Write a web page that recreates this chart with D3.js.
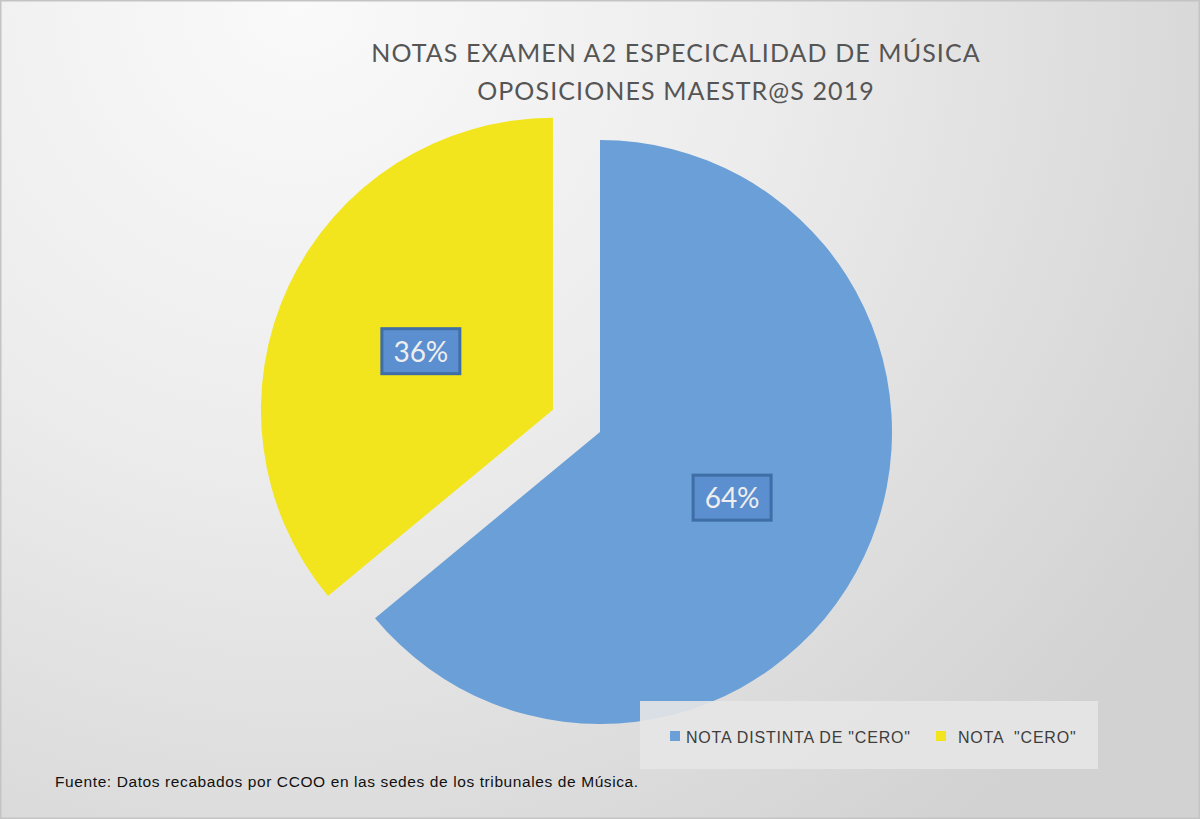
<!DOCTYPE html>
<html><head><meta charset="utf-8">
<script src="https://cdn.jsdelivr.net/npm/d3@7"></script>
<style>html,body{margin:0;padding:0;background:#fff;}svg{display:block;}</style>
</head><body>
<svg id="chart" width="1200" height="819"></svg>
<script>
const categories = ['NOTA DISTINTA DE "CERO"', 'NOTA  "CERO"'];
const values = [64, 36];
const colors = ["#6a9fd7", "#f2e51e"];
const titleLines = ["NOTAS EXAMEN A2 ESPECICALIDAD DE MÚSICA", "OPOSICIONES MAESTR@S 2019"];
const footnote = "Fuente: Datos recabados por CCOO en las sedes de los tribunales de Música.";

const W = 1200, H = 819;
const svg = d3.select("#chart");
const defs = svg.append("defs");
const grad = defs.append("radialGradient").attr("id", "bg")
  .attr("gradientUnits", "userSpaceOnUse")
  .attr("cx", 300).attr("cy", 0).attr("r", 1050);
grad.append("stop").attr("offset", "0%").attr("stop-color", "#fafafa");
grad.append("stop").attr("offset", "45%").attr("stop-color", "#ececec");
grad.append("stop").attr("offset", "100%").attr("stop-color", "#d2d2d2");

svg.append("rect").attr("x", 0.5).attr("y", 0.5).attr("width", W - 1).attr("height", H - 1)
  .attr("fill", "url(#bg)").attr("stroke", "#c4c4c4").attr("stroke-width", 2);

// Title
svg.append("g").selectAll("text").data(titleLines).join("text")
  .attr("x", 676).attr("y", (d, i) => 62 + i * 38)
  .attr("text-anchor", "middle")
  .attr("font-family", "Lato, 'Open Sans', sans-serif")
  .attr("font-size", 25).attr("letter-spacing", 1.1)
  .attr("fill", "#555555")
  .text(d => d);

// Pie
const cx = 600, cy = 432, R = 292, explode = 52;
const pie = d3.pie().sort(null).value(d => d)(values);
const arc = d3.arc().innerRadius(0).outerRadius(R);
const total = d3.sum(values);
const g = svg.append("g").attr("transform", `translate(${cx},${cy})`);
const offset = (d, i) => {
  if (i !== 1) return [0, 0];
  const a = (d.startAngle + d.endAngle) / 2;
  return [Math.sin(a) * explode, -Math.cos(a) * explode];
};
const slices = g.selectAll("g.slice").data(pie).join("g").attr("class", "slice")
  .attr("transform", (d, i) => { const o = offset(d, i); return `translate(${o[0]},${o[1]})`; });
slices.append("path").attr("d", arc).attr("fill", (d, i) => colors[i]);

const labelR = R * 0.5;
slices.each(function(d) {
  const a = (d.startAngle + d.endAngle) / 2;
  const x = Math.sin(a) * labelR, y = -Math.cos(a) * labelR + 4;
  const sel = d3.select(this);
  sel.append("rect").attr("x", x - 39).attr("y", y - 23).attr("width", 78).attr("height", 45)
    .attr("fill", "#5c8fcf").attr("stroke", "#3f6ea6").attr("stroke-width", 3);
  sel.append("text").attr("x", x).attr("y", y + 10).attr("text-anchor", "middle")
    .attr("font-family", "Lato, 'Open Sans', sans-serif").attr("font-size", 28)
    .attr("fill", "#eeeeee")
    .text(Math.round(d.data / total * 100) + "%");
});

// Legend
const lg = svg.append("g");
lg.append("rect").attr("x", 640).attr("y", 701).attr("width", 458).attr("height", 68)
  .attr("fill", "#e6e6e6").attr("opacity", 0.9);
const legX = [670, 936], textX = [686, 958];
categories.forEach((c, i) => {
  lg.append("rect").attr("x", legX[i]).attr("y", 731).attr("width", 10).attr("height", 10).attr("fill", colors[i]);
  lg.append("text").attr("x", textX[i]).attr("y", 743)
    .attr("xml:space", "preserve").style("white-space", "pre")
    .attr("font-family", "'Liberation Sans', Arial, sans-serif").attr("font-size", 16)
    .attr("fill", "#3d3d3d").attr("letter-spacing", 0.8).text(c);
});

// Footnote
svg.append("text").attr("x", 55).attr("y", 787)
  .attr("font-family", "'Liberation Sans', Arial, sans-serif").attr("font-size", 15.5)
  .attr("fill", "#111").attr("letter-spacing", 0.6).text(footnote);
</script>
</body></html>
